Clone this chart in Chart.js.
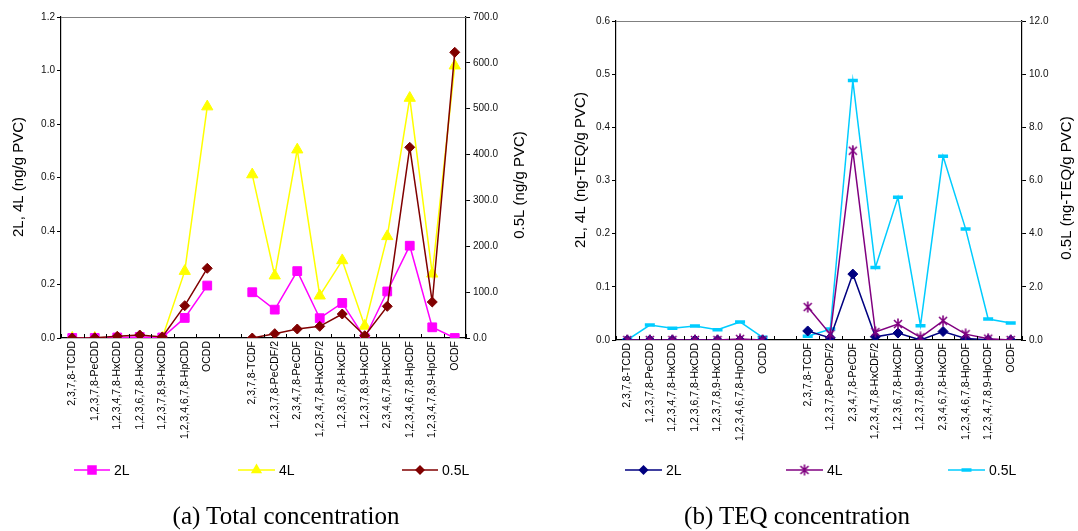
<!DOCTYPE html>
<html><head><meta charset="utf-8">
<script src="https://cdn.jsdelivr.net/npm/chart.js@4.4.0/dist/chart.umd.min.js"></script>
<style>
html,body{margin:0;padding:0;background:#fff;width:1078px;height:531px;overflow:hidden;}
.box{position:absolute;top:0;height:531px;}
#boxA{left:0;width:540px;}
#boxB{left:540px;width:538px;}
.cap{position:absolute;font-family:'Liberation Serif','Times New Roman',serif;font-size:25px;line-height:1;color:#000;white-space:nowrap;transform:translateX(-50%);top:503px;}
</style></head><body>
<div class="box" id="boxA"><canvas id="cA"></canvas></div>
<div class="box" id="boxB"><canvas id="cB"></canvas></div>
<div class="cap" style="left:286px">(a) Total concentration</div>
<div class="cap" style="left:797px">(b) TEQ concentration</div>
<script>
// ---- data ----
const categories = ['2,3,7,8-TCDD','1,2,3,7,8-PeCDD','1,2,3,4,7,8-HxCDD','1,2,3,6,7,8-HxCDD','1,2,3,7,8,9-HxCDD','1,2,3,4,6,7,8-HpCDD','OCDD','',
  '2,3,7,8-TCDF','1,2,3,7,8-PeCDF/2','2,3,4,7,8-PeCDF','1,2,3,4,7,8-HxCDF/2','1,2,3,6,7,8-HxCDF','1,2,3,7,8,9-HxCDF','2,3,4,6,7,8-HxCDF','1,2,3,4,6,7,8-HpCDF','1,2,3,4,7,8,9-HpCDF','OCDF'];
const seriesNames = ['2L','4L','0.5L'];
// (a) total concentration
const total2L  = [0,0,0.002,0.004,0.002,0.075,0.196,null,0.171,0.106,0.250,0.074,0.131,0,0.174,0.345,0.040,0];
const total4L  = [0,0,0,0,0,0.25,0.865,null,0.611,0.233,0.704,0.158,0.290,0.045,0.38,0.897,0.24,1.018];
const total05L = [0,0.5,3.6,6.5,2.2,70.5,152,null,0,9.5,19.6,25.4,52.3,5,69,415.8,78.5,623];
// (b) TEQ concentration
const teq2L  = [0,0,0,0,0,0,0,null,0.017,0.004,0.124,0.006,0.013,0,0.016,0.003,0.0005,0];
const teq4L  = [0,0,0,0,0,0.002,0,null,0.062,0.011,0.356,0.015,0.030,0.005,0.036,0.011,0.0025,0];
const teq05L = [0,0.56,0.44,0.53,0.39,0.68,0.10,null,0.138,0.41,9.76,2.73,5.37,0.54,6.91,4.18,0.79,0.64];
// axis ranges / titles
const axisA = {left:[0,1.2,0.2], right:[0,700,100], leftTitle:'2L, 4L (ng/g PVC)', rightTitle:'0.5L (ng/g PVC)'};
const axisB = {left:[0,0.6,0.1], right:[0,12,2], leftTitle:'2L, 4L (ng-TEQ/g PVC)', rightTitle:'0.5L (ng-TEQ/g PVC)'};

const SANS = "'Liberation Sans', Arial, sans-serif";

// star marker image (x with vertical bar)
function makeStar(color){
  const c = document.createElement('canvas'); c.width = 12; c.height = 12;
  const g = c.getContext('2d'); g.strokeStyle = color; g.lineWidth = 1.6;
  g.beginPath();
  g.moveTo(2,2); g.lineTo(10,10); g.moveTo(10,2); g.lineTo(2,10); g.moveTo(6,0.5); g.lineTo(6,11.5);
  g.stroke();
  return c;
}
const starImg = makeStar('#800080');

function drawMarker(ctx, m, x, y, color){
  ctx.save(); ctx.fillStyle = color; ctx.strokeStyle = color;
  let r;
  if (m === 'rect'){ ctx.fillRect(x-4.75, y-4.75, 9.5, 9.5); }
  else if (m === 'triangle'){ r = 6.5; ctx.beginPath(); ctx.moveTo(x, y-r); ctx.lineTo(x+r*0.866, y+r*0.5); ctx.lineTo(x-r*0.866, y+r*0.5); ctx.closePath(); ctx.fill(); }
  else if (m === 'rectRot'){ r = 5; ctx.beginPath(); ctx.moveTo(x, y-r); ctx.lineTo(x+r, y); ctx.lineTo(x, y+r); ctx.lineTo(x-r, y); ctx.closePath(); ctx.fill(); }
  else if (m === 'star'){ ctx.drawImage(starImg, x-6, y-6); }
  else if (m === 'line'){ ctx.lineWidth = 3.5; ctx.beginPath(); ctx.moveTo(x-5, y); ctx.lineTo(x+5, y); ctx.stroke(); }
  ctx.restore();
}

const framePlugin = {
  id: 'frame',
  afterDraw(chart, args, o){
    const {ctx, chartArea: a, scales} = chart;
    ctx.save();
    // top border of plot area
    ctx.strokeStyle = '#808080'; ctx.lineWidth = 1;
    ctx.beginPath(); ctx.moveTo(a.left, Math.round(a.top)+0.5); ctx.lineTo(a.right, Math.round(a.top)+0.5); ctx.stroke();
    // inward x tick marks at category boundaries
    const xs = scales.x, n = chart.data.labels.length;
    ctx.strokeStyle = '#000'; ctx.lineWidth = 1; ctx.beginPath();
    for (let i = 0; i <= n; i++){
      const x = Math.round(xs.left + i*(xs.width/n)) + 0.5;
      ctx.moveTo(x, a.bottom); ctx.lineTo(x, a.bottom-4);
    }
    ctx.stroke();
    // axis titles (both read bottom-to-top)
    ctx.fillStyle = '#000'; ctx.font = '15px ' + SANS; ctx.textAlign = 'center'; ctx.textBaseline = 'middle';
    for (const t of o.titles){
      ctx.save(); ctx.translate(t.x, t.y); ctx.rotate(-Math.PI/2); ctx.fillText(t.text, 0, 0); ctx.restore();
    }
    // legend: line + marker + label
    chart.data.datasets.forEach((ds, i) => {
      const L = o.legend[i];
      ctx.strokeStyle = ds.borderColor; ctx.lineWidth = 1.5;
      ctx.beginPath(); ctx.moveTo(L.x1, o.legendY); ctx.lineTo(L.x2, o.legendY); ctx.stroke();
      drawMarker(ctx, L.marker, (L.x1+L.x2)/2, o.legendY, ds.pointBorderColor);
      ctx.fillStyle = '#000'; ctx.font = '14px ' + SANS; ctx.textAlign = 'left'; ctx.textBaseline = 'middle';
      ctx.fillText(ds.label, L.x2 + 4, o.legendY + 1);
    });
    ctx.restore();
  }
};

function makeScales(ax, leftW, rightW, xH){
  const tickFont = {family: SANS, size: 10};
  return {
    x: {
      type: 'category', offset: true,
      grid: {display: true, drawOnChartArea: false, drawTicks: false, offset: true},
      border: {display: true, color: '#000', width: 1.2},
      ticks: {autoSkip: false, minRotation: 90, maxRotation: 90, padding: 3, color: '#000', font: {family: SANS, size: 10.5}},
      afterFit: s => { s.height = xH; }
    },
    y: {
      position: 'left', min: ax.left[0], max: ax.left[1],
      grid: {drawOnChartArea: false, drawTicks: true, tickLength: 4, color: '#000'},
      border: {display: true, color: '#000', width: 1.2},
      ticks: {stepSize: ax.left[2], padding: 2, color: '#111', font: tickFont, callback: v => Number(v).toFixed(1)},
      afterFit: s => { s.width = leftW; }
    },
    y1: {
      position: 'right', min: ax.right[0], max: ax.right[1],
      grid: {drawOnChartArea: false, drawTicks: true, tickLength: 4, color: '#000'},
      border: {display: true, color: '#000', width: 1.2},
      ticks: {stepSize: ax.right[2], padding: 3, color: '#111', font: tickFont, callback: v => Number(v).toFixed(1)},
      afterFit: s => { s.width = rightW; }
    }
  };
}

function ds(label, data, color, style, radius, bw, axis, order, img){
  return {label, data, yAxisID: axis, order,
    borderColor: color, backgroundColor: color, borderWidth: 1.5, tension: 0, spanGaps: false,
    pointStyle: img || style, pointRadius: radius, pointHoverRadius: radius,
    pointBackgroundColor: color, pointBorderColor: color, pointBorderWidth: bw};
}

// chart (a)
new Chart(document.getElementById('cA'), {
  type: 'line',
  data: {labels: categories, datasets: [
    ds(seriesNames[0], total2L, '#FF00FF', 'rect', 6.2, 1, 'y', 1),
    ds(seriesNames[1], total4L, '#FFFF00', 'triangle', 6.5, 1, 'y', 2),
    ds(seriesNames[2], total05L, '#800000', 'rectRot', 5, 1, 'y1', 0)
  ]},
  options: {
    responsive: true, maintainAspectRatio: false, animation: false,
    layout: {padding: {left: 0, right: 0, top: 17, bottom: 0}},
    scales: makeScales(axisA, 61, 74, 531-338),
    plugins: {
      legend: {display: false}, tooltip: {enabled: false},
      frame: {
        titles: [{x: 18.5, y: 177, text: axisA.leftTitle}, {x: 520, y: 185, text: axisA.rightTitle}],
        legendY: 470,
        legend: [{x1: 74, x2: 110, marker: 'rect'}, {x1: 238, x2: 275, marker: 'triangle'}, {x1: 402, x2: 438, marker: 'rectRot'}]
      }
    }
  },
  plugins: [framePlugin]
});

// chart (b)
new Chart(document.getElementById('cB'), {
  type: 'line',
  data: {labels: categories, datasets: [
    ds(seriesNames[0], teq2L, '#000080', 'rectRot', 5, 1, 'y', 1),
    ds(seriesNames[1], teq4L, '#800080', 'star', 6, 1, 'y', 0, starImg),
    ds(seriesNames[2], teq05L, '#00CCFF', 'line', 5, 3.5, 'y1', 2)
  ]},
  options: {
    responsive: true, maintainAspectRatio: false, animation: false,
    layout: {padding: {left: 0, right: 0, top: 21, bottom: 0}},
    scales: makeScales(axisB, 76, 56, 531-340),
    plugins: {
      legend: {display: false}, tooltip: {enabled: false},
      frame: {
        titles: [{x: 41, y: 170, text: axisB.leftTitle}, {x: 527, y: 188, text: axisB.rightTitle}],
        legendY: 470,
        legend: [{x1: 85, x2: 122, marker: 'rectRot'}, {x1: 246, x2: 283, marker: 'star'}, {x1: 408, x2: 445, marker: 'line'}]
      }
    }
  },
  plugins: [framePlugin]
});
</script>
</body></html>
